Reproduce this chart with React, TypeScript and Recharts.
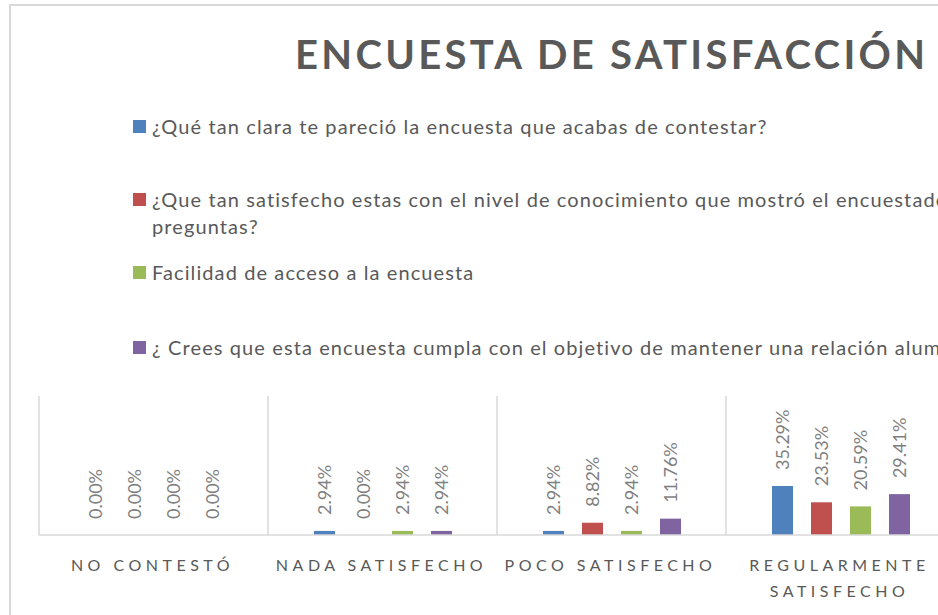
import React from "react";
import {
  BarChart,
  Bar,
  XAxis,
  YAxis,
  CartesianGrid,
  Legend,
  LabelList,
} from "recharts";

// categorías del eje X
const categories = [
  "NO CONTESTÓ",
  "NADA SATISFECHO",
  "POCO SATISFECHO",
  "REGULARMENTE SATISFECHO",
];

// valores por pregunta (fracción)
const claridad = [0, 0.0294, 0.0294, 0.3529];
const conocimiento = [0, 0, 0.0882, 0.2353];
const facilidad = [0, 0.0294, 0.0294, 0.2059];
const objetivo = [0, 0.0294, 0.1176, 0.2941];

const seriesNames = [
  "¿Qué tan clara te pareció la encuesta que acabas de contestar?",
  "¿Que tan satisfecho estas con el nivel de conocimiento que mostró el encuestador al hacerte las\npreguntas?",
  "Facilidad de acceso a la encuesta",
  "¿ Crees que esta encuesta cumpla con el objetivo de mantener una relación alumno-escuela?",
];

const colors = ["#4f81bd", "#c0504d", "#9bbb59", "#8064a2"];
const FONT = "Lato, 'Open Sans', sans-serif";

const data = categories.map((cat, i) => ({
  cat,
  claridad: claridad[i],
  conocimiento: conocimiento[i],
  facilidad: facilidad[i],
  objetivo: objetivo[i],
}));

const keys = ["claridad", "conocimiento", "facilidad", "objetivo"];

// etiqueta vertical encima de cada barra
const renderLabel = (props: any) => {
  const { x, y, width, value } = props;
  const cx = x + width / 2;
  const cy = y - 16;
  return (
    <text
      x={cx}
      y={cy}
      transform={`rotate(-90, ${cx}, ${cy})`}
      textAnchor="start"
      dominantBaseline="central"
      fontFamily={FONT}
      fontSize={18}
      fill="#7f7f7f"
    >
      {(Number(value) * 100).toFixed(2) + "%"}
    </text>
  );
};

const CategoryTick = (props: any) => {
  const { x, y, payload } = props;
  const words = String(payload.value).split(" ");
  const lines: string[] = [];
  let cur = "";
  words.forEach((w) => {
    const next = cur ? cur + " " + w : w;
    if (next.length > 18 && cur) {
      lines.push(cur);
      cur = w;
    } else cur = next;
  });
  lines.push(cur);
  return (
    <text
      x={x}
      y={y}
      textAnchor="middle"
      fontFamily={FONT}
      fontSize={16}
      fill="#595959"
      letterSpacing={4.5}
    >
      {lines.map((l, i) => (
        <tspan key={i} x={x - 1} dy={i === 0 ? 28 : 26}>
          {l}
        </tspan>
      ))}
    </text>
  );
};

// líneas verticales en los límites de cada categoría
const boundaryLines = ({ offset }: any) =>
  [0, ...categories.map((_, i) => i + 1)].map(
    (i) => offset.left + (i * offset.width) / categories.length
  );

const legendTops = [113, 186, 259, 334];

const renderLegend = () => (
  <div style={{ position: "relative", width: 1000, height: 400 }}>
    {seriesNames.map((name, i) => (
      <div
        key={i}
        style={{
          position: "absolute",
          left: 133,
          top: legendTops[i],
          fontFamily: FONT,
          fontSize: 20,
          letterSpacing: 1.1,
          lineHeight: "27px",
          color: "#595959",
          whiteSpace: "pre",
        }}
      >
        <span
          style={{
            position: "absolute",
            left: 0,
            top: 7,
            width: 13,
            height: 13,
            background: colors[i],
          }}
        />
        <div style={{ paddingLeft: 19 }}>{name}</div>
      </div>
    ))}
  </div>
);

export default function App() {
  return (
    <div
      style={{
        position: "fixed",
        left: 0,
        top: 0,
        width: 938,
        height: 615,
        overflow: "hidden",
        background: "#fff",
      }}
    >
      <div
        style={{
          position: "absolute",
          left: 9,
          top: 4,
          width: 1000,
          height: 700,
          borderLeft: "2px solid #d9d9d9",
          borderTop: "2px solid #d9d9d9",
        }}
      />
      <svg
        width={938}
        height={90}
        style={{ position: "absolute", left: 0, top: 0 }}
      >
        <text
          x={295}
          y={69}
          textLength={630}
          lengthAdjust="spacing"
          fontFamily={FONT}
          fontWeight={700}
          fontSize={40}
          fill="#595959"
        >
          ENCUESTA DE SATISFACCIÓN
        </text>
      </svg>
      <div style={{ position: "absolute", left: 0, top: 0 }}>
        <BarChart
          width={1000}
          height={615}
          data={data}
          margin={{ top: 396, left: 39, right: 45, bottom: 0 }}
          barSize={21}
          barGap={18}
        >
          <CartesianGrid
            horizontal={false}
            stroke="#d9d9d9"
            strokeWidth={1.5}
            verticalCoordinatesGenerator={boundaryLines}
          />
          <XAxis
            dataKey="cat"
            height={80}
            interval={0}
            tickLine={false}
            axisLine={{ stroke: "#d9d9d9", strokeWidth: 1.5 }}
            tick={<CategoryTick />}
          />
          <YAxis hide domain={[0, 1]} />
          <Legend
            layout="horizontal"
            verticalAlign="middle"
            align="center"
            content={renderLegend}
            wrapperStyle={{ position: "absolute", left: 0, top: 0, width: 1000 }}
          />
          {keys.map((k, i) => (
            <Bar
              key={k}
              dataKey={k}
              name={seriesNames[i]}
              fill={colors[i]}
              minPointSize={0.01}
              isAnimationActive={false}
            >
              <LabelList dataKey={k} content={renderLabel} />
            </Bar>
          ))}
        </BarChart>
      </div>
    </div>
  );
}
